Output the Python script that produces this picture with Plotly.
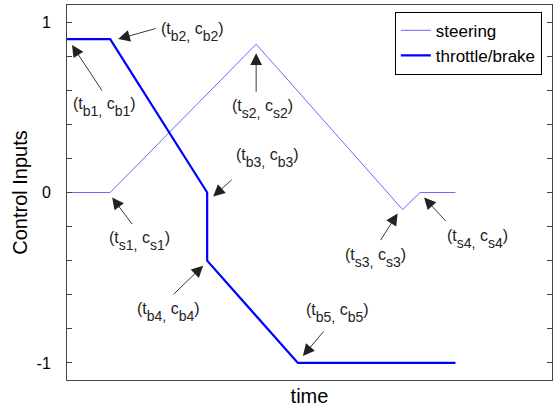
import plotly.graph_objects as go

# ---- data ----
t_throttle = [0, 8.9, 28.9, 28.9, 47.6, 80.1]
c_throttle = [0.9, 0.9, 0.0, -0.4, -1.0, -1.0]
t_steer = [0, 8.9, 39.0, 69.2, 72.8, 80.1]
c_steer = [0.0, 0.0, 0.87, -0.1, 0.0, 0.0]
y_tickvals = [-1, -0.8, -0.6, -0.4, -0.2, 0, 0.2, 0.4, 0.6, 0.8, 1]
y_ticktext = ["-1", "", "", "", "", "0", "", "", "", "", "1"]

# point labels: (series, index, name)
labels = [
    ("b", 0, "b1"), ("b", 1, "b2"), ("b", 2, "b3"), ("b", 3, "b4"), ("b", 4, "b5"),
    ("s", 1, "s1"), ("s", 2, "s2"), ("s", 3, "s3"), ("s", 4, "s4"),
]
# pixel offsets from the point: head (dx,dy), tail (dx,dy), text centre (dx,dy); dy positive downwards
offsets = {
    "b1": ((5, 6), (36, 53), (37, 68)),
    "b2": ((8, 0), (47, -11), (82, -7)),
    "b3": ((6, 4), (26, -14), (60, -35)),
    "b4": ((-4, 5), (-35, 35), (-39, 51)),
    "b5": ((5, -7), (27, -33), (40, -50)),
    "s1": ((2, 5), (23, 33), (29, 48)),
    "s2": ((0, 9), (0, 49), (6, 65)),
    "s3": ((-5, 4), (-23, 32), (-27, 48)),
    "s4": ((4, 5), (27, 30), (57, 46)),
}

FONT = "Liberation Sans, Arial, sans-serif"

fig = go.Figure()
fig.add_trace(go.Scatter(x=t_steer, y=c_steer, mode="lines", name="steering",
                         line=dict(color="#6a6aff", width=1)))
fig.add_trace(go.Scatter(x=t_throttle, y=c_throttle, mode="lines", name="throttle/brake",
                         line=dict(color="#0000ff", width=2.2)))

def sub(s):
    return '<span style="font-size:14px;baseline-shift:-7px">' + s + '</span>'

for ser, idx, nm in labels:
    if ser == "b":
        px, py = t_throttle[idx], c_throttle[idx]
    else:
        px, py = t_steer[idx], c_steer[idx]
    (hx, hy), (tx, ty), (cx, cy) = offsets[nm]
    fig.add_annotation(x=px, y=py, xref="x", yref="y", text="", showarrow=True,
                       xshift=hx, yshift=-hy, ax=tx - hx, ay=ty - hy,
                       arrowhead=2, arrowsize=2.6, arrowwidth=0.9, arrowcolor="#222222",
                       standoff=0, startstandoff=0)
    txt = "(t" + sub(nm + ",") + " c" + sub(nm) + ")"
    fig.add_annotation(x=px, y=py, xref="x", yref="y", text=txt, showarrow=False,
                       xshift=cx, yshift=-cy, xanchor="center", yanchor="middle",
                       font=dict(family=FONT, size=16, color="#222222"))

fig.update_layout(
    width=554, height=408,
    margin=dict(l=67, r=2, t=5, b=28),
    paper_bgcolor="white", plot_bgcolor="white",
    font=dict(family=FONT, size=16, color="black"),
    showlegend=True,
    legend=dict(x=0.979, y=0.982, xanchor="right", yanchor="top",
                bgcolor="white", bordercolor="black", borderwidth=1,
                font=dict(family=FONT, size=17, color="black"),
                tracegroupgap=0, itemwidth=30),
)
fig.update_xaxes(range=[0, 100], showgrid=False, zeroline=False, showticklabels=False,
                 ticks="", showline=True, linecolor="#444444", linewidth=1, mirror=True,
                 title=dict(text="time", font=dict(family=FONT, size=20, color="black"), standoff=8),
                 automargin=False)
fig.update_yaxes(range=[-1.1, 1.1], showgrid=False, zeroline=False,
                 tickmode="array", tickvals=y_tickvals, ticktext=y_ticktext,
                 ticks="inside", ticklen=5, tickcolor="#444444", tickwidth=1,
                 ticklabelstandoff=12,
                 showline=True, linecolor="#444444", linewidth=1, mirror="allticks",
                 tickfont=dict(family=FONT, size=16, color="black"),
                 title=dict(text="Control Inputs", font=dict(family=FONT, size=20, color="black"), standoff=3),
                 automargin=False)

fig.write_html("out.html", config={"displayModeBar": False})

# remove the browser's default page margin so the figure sits at the window origin
with open("out.html", "r", encoding="utf-8") as f:
    html = f.read()
html = html.replace("<head>", "<head><style>html,body{margin:0;padding:0;overflow:hidden}</style>", 1)
with open("out.html", "w", encoding="utf-8") as f:
    f.write(html)
